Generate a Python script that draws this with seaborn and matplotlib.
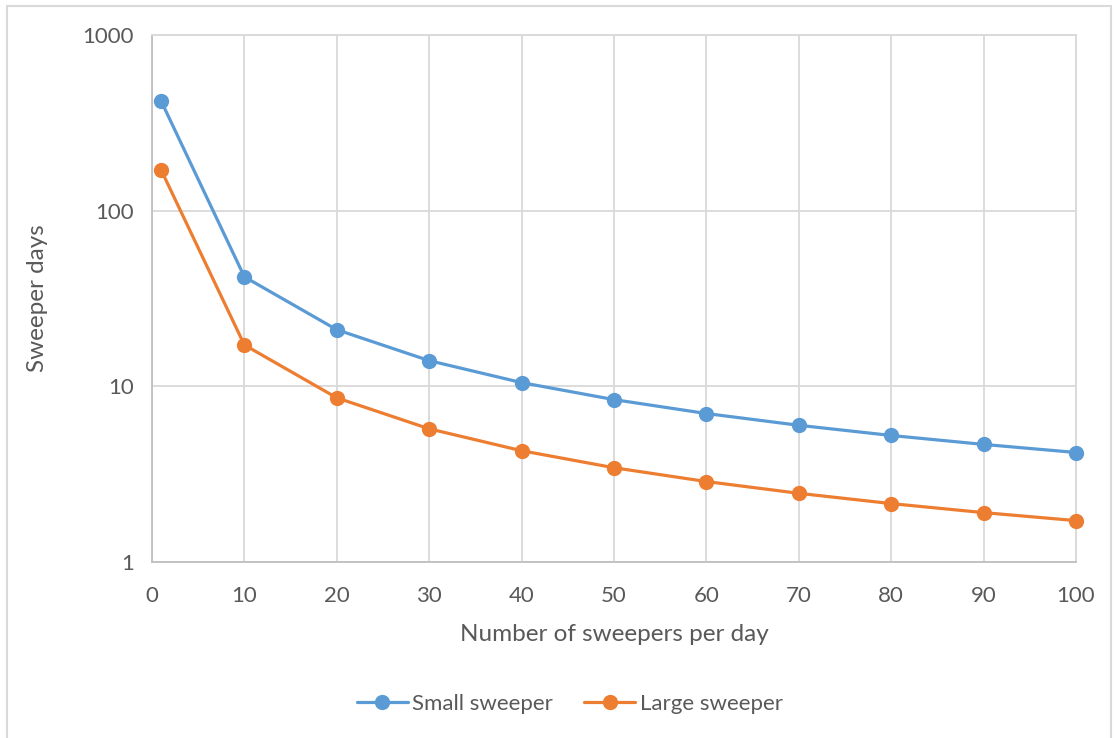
import pandas as pd
import matplotlib.pyplot as plt
import matplotlib.ticker as mticker
from matplotlib.patches import Rectangle
import seaborn as sns

# values
sweepers = [1, 10, 20, 30, 40, 50, 60, 70, 80, 90, 100]
small_days = [420, 42, 21, 14, 10.5, 8.4, 7.0, 6.0, 5.25, 4.67, 4.2]
large_days = [170, 17.2, 8.6, 5.73, 4.3, 3.44, 2.87, 2.46, 2.15, 1.91, 1.72]
series_names = ["Small sweeper", "Large sweeper"]

df = pd.DataFrame({
    "x": sweepers * 2,
    "days": small_days + large_days,
    "series": [series_names[0]] * len(sweepers) + [series_names[1]] * len(sweepers),
})

sns.set_style("white")
plt.rcParams["font.family"] = ["Lato", "DejaVu Sans"]
text_color = "#595959"
grid_color = "#D9D9D9"

fig = plt.figure(figsize=(11.15, 7.38), dpi=100)
ax = fig.add_axes([0.1363, 0.2385, 0.8287, 0.7141])

palette = {series_names[0]: "#5B9BD5", series_names[1]: "#ED7D31"}
sns.lineplot(data=df, x="x", y="days", hue="series", palette=palette,
             marker="o", markersize=11, markeredgewidth=0, linewidth=2.3,
             ax=ax, legend=False, clip_on=False, zorder=3)

ax.set_yscale("log")
ax.set_ylim(1, 1000)
ax.set_xlim(0, 100)
ax.set_xticks(range(0, 101, 10))
ax.yaxis.set_major_locator(mticker.FixedLocator([1, 10, 100, 1000]))
ax.yaxis.set_major_formatter(mticker.FuncFormatter(lambda v, p: f"{v:g}"))
ax.yaxis.set_minor_locator(mticker.LogLocator(base=10, subs=range(2, 10)))
ax.yaxis.set_minor_formatter(mticker.NullFormatter())

ax.grid(True, which="major", color=grid_color, linewidth=1.3)
ax.set_axisbelow(True)
for side in ["top", "right"]:
    ax.spines[side].set_color(grid_color)
    ax.spines[side].set_linewidth(1.3)
for side in ["left", "bottom"]:
    ax.spines[side].set_color("#BFBFBF")
    ax.spines[side].set_linewidth(1.3)

ax.tick_params(axis="y", which="both", direction="out", length=4, width=1,
               color="#BFBFBF", labelsize=16, labelcolor=text_color, pad=9)
ax.tick_params(axis="x", length=0, labelsize=16, labelcolor=text_color, pad=17)

ax.set_xlabel("Number of sweepers per day", fontsize=17.5, color=text_color, labelpad=13)
ax.set_ylabel("Sweeper days", fontsize=17.5, color=text_color, labelpad=25)

handles = [plt.Line2D([], [], color=palette[n], marker="o", markersize=11,
                      markeredgewidth=0, linewidth=2.3) for n in series_names]
fig.legend(handles, series_names, loc="center", bbox_to_anchor=(0.511, 0.046),
           ncol=2, frameon=False, fontsize=16, labelcolor=text_color,
           handlelength=2.3, handletextpad=0.2, columnspacing=1.4, numpoints=1)

# thin chart-area border like the original
fig.patches.append(Rectangle((0.006, -0.01), 0.99, 1.002, transform=fig.transFigure,
                             fill=False, edgecolor=grid_color, linewidth=1.5))

fig.savefig("out.png", dpi=100)
